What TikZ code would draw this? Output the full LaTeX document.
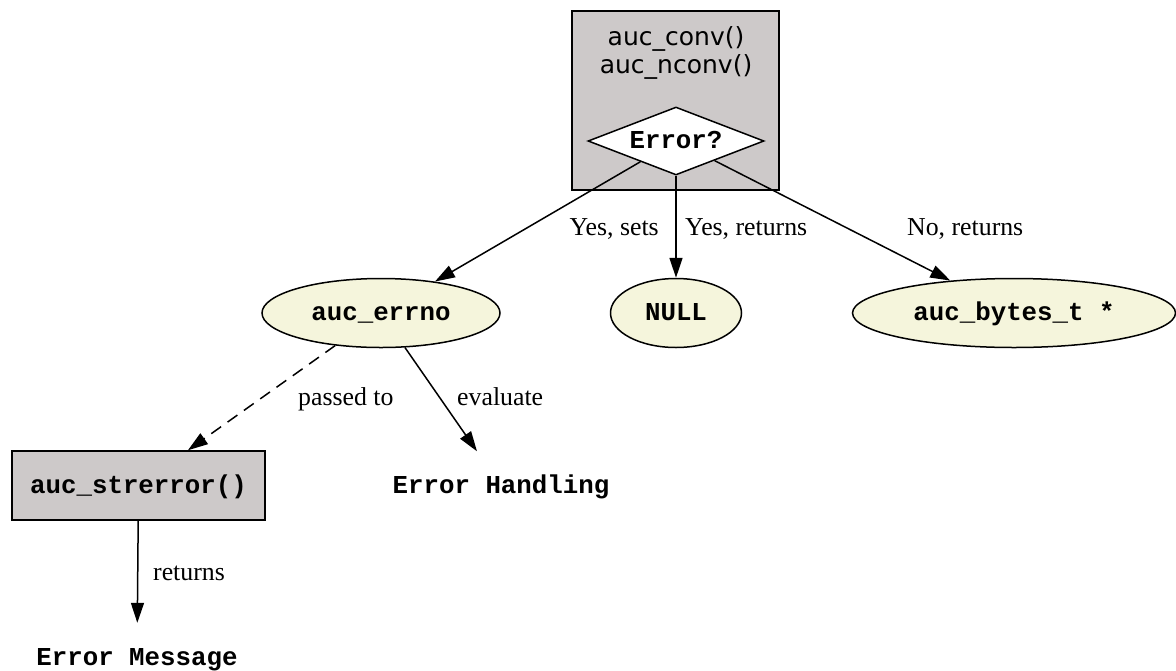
\documentclass[tikz,border=0pt]{standalone}
\usepackage{fontspec}
\newfontfamily\labelfont{Liberation Serif}
\newfontfamily\codefont{Liberation Mono}
\newfontfamily\clusterfont{DejaVu Sans}
\usetikzlibrary{shapes.geometric,arrows.meta}

\definecolor{panelgray}{HTML}{CDC9C9}
\definecolor{termfill}{HTML}{F5F5DC}

\tikzset{
  code/.style={font={\codefont\bfseries\fontsize{25.8}{30}\selectfont},
    text height=18pt, text depth=3pt, inner sep=0pt},
  term/.style={code, ellipse, draw, fill=termfill, line width=1.5pt, minimum height=69pt},
  funcbox/.style={code, rectangle, draw, fill=panelgray, line width=1.5pt},
  result/.style={code, minimum height=69pt},
  decision/.style={code, diamond, aspect=2.6, draw, fill=white, line width=1.5pt,
    minimum width=176pt, minimum height=68pt},
  flow/.style={draw, line width=1.5pt, -{Triangle[length=20pt,width=13pt]}},
  lbl/.style={font={\labelfont\fontsize{25.8}{30}\selectfont}, inner sep=0pt},
  title/.style={font={\clusterfont\fontsize{25}{30}\selectfont}, inner sep=0pt, anchor=base},
}

\begin{document}
\begin{tikzpicture}[x=1pt,y=-1pt]
\useasboundingbox (0,0) rectangle (1176,670);

% conversion functions panel
\node[draw, fill=panelgray, line width=1.5pt, minimum width=207pt, minimum height=179pt,
      inner sep=0pt] (conv) at (675.5,100.5) {};
\node[title] (convname) at (676,45.5) {auc\_conv()};
\node[title] (nconvname) at (676,73) {auc\_nconv()};
\node[decision] (err) at (676,141) {Error?};

% outcomes
\node[term, minimum width=238pt] (errno) at (381,313) {auc\_errno};
\node[term, minimum width=131pt] (null) at (676,313) {NULL};
\node[term, minimum width=323pt] (bytes) at (1014,313) {auc\_bytes\_t *};

\node[funcbox, minimum width=253pt, minimum height=69pt] (strerr) at (138.5,485.5) {auc\_strerror()};
\node[result] (handling) at (501,486) {Error Handling};
\node[result] (message) at (137,657.5) {Error Message};

% connectors
\draw[flow] (err) -- (errno);
\draw[flow] (err) -- (null);
\draw[flow] (err) -- (bytes);
\draw[flow, dash pattern=on 12pt off 8pt] (errno) -- (strerr);
\draw[flow] (errno) -- (handling);
\draw[flow] (strerr) -- (message);

% connector labels
\node[lbl, anchor=base east] (lsets) at (659,235) {Yes, sets};
\node[lbl, anchor=base west] (lret) at (685,235) {Yes, returns};
\node[lbl, anchor=base west] (lno) at (907,235) {No, returns};
\node[lbl, anchor=base west] (lpass) at (298,405) {passed to};
\node[lbl, anchor=base west] (leval) at (457,405) {evaluate};
\node[lbl, anchor=base west] (lmsg) at (153,580) {returns};
\end{tikzpicture}
\end{document}
